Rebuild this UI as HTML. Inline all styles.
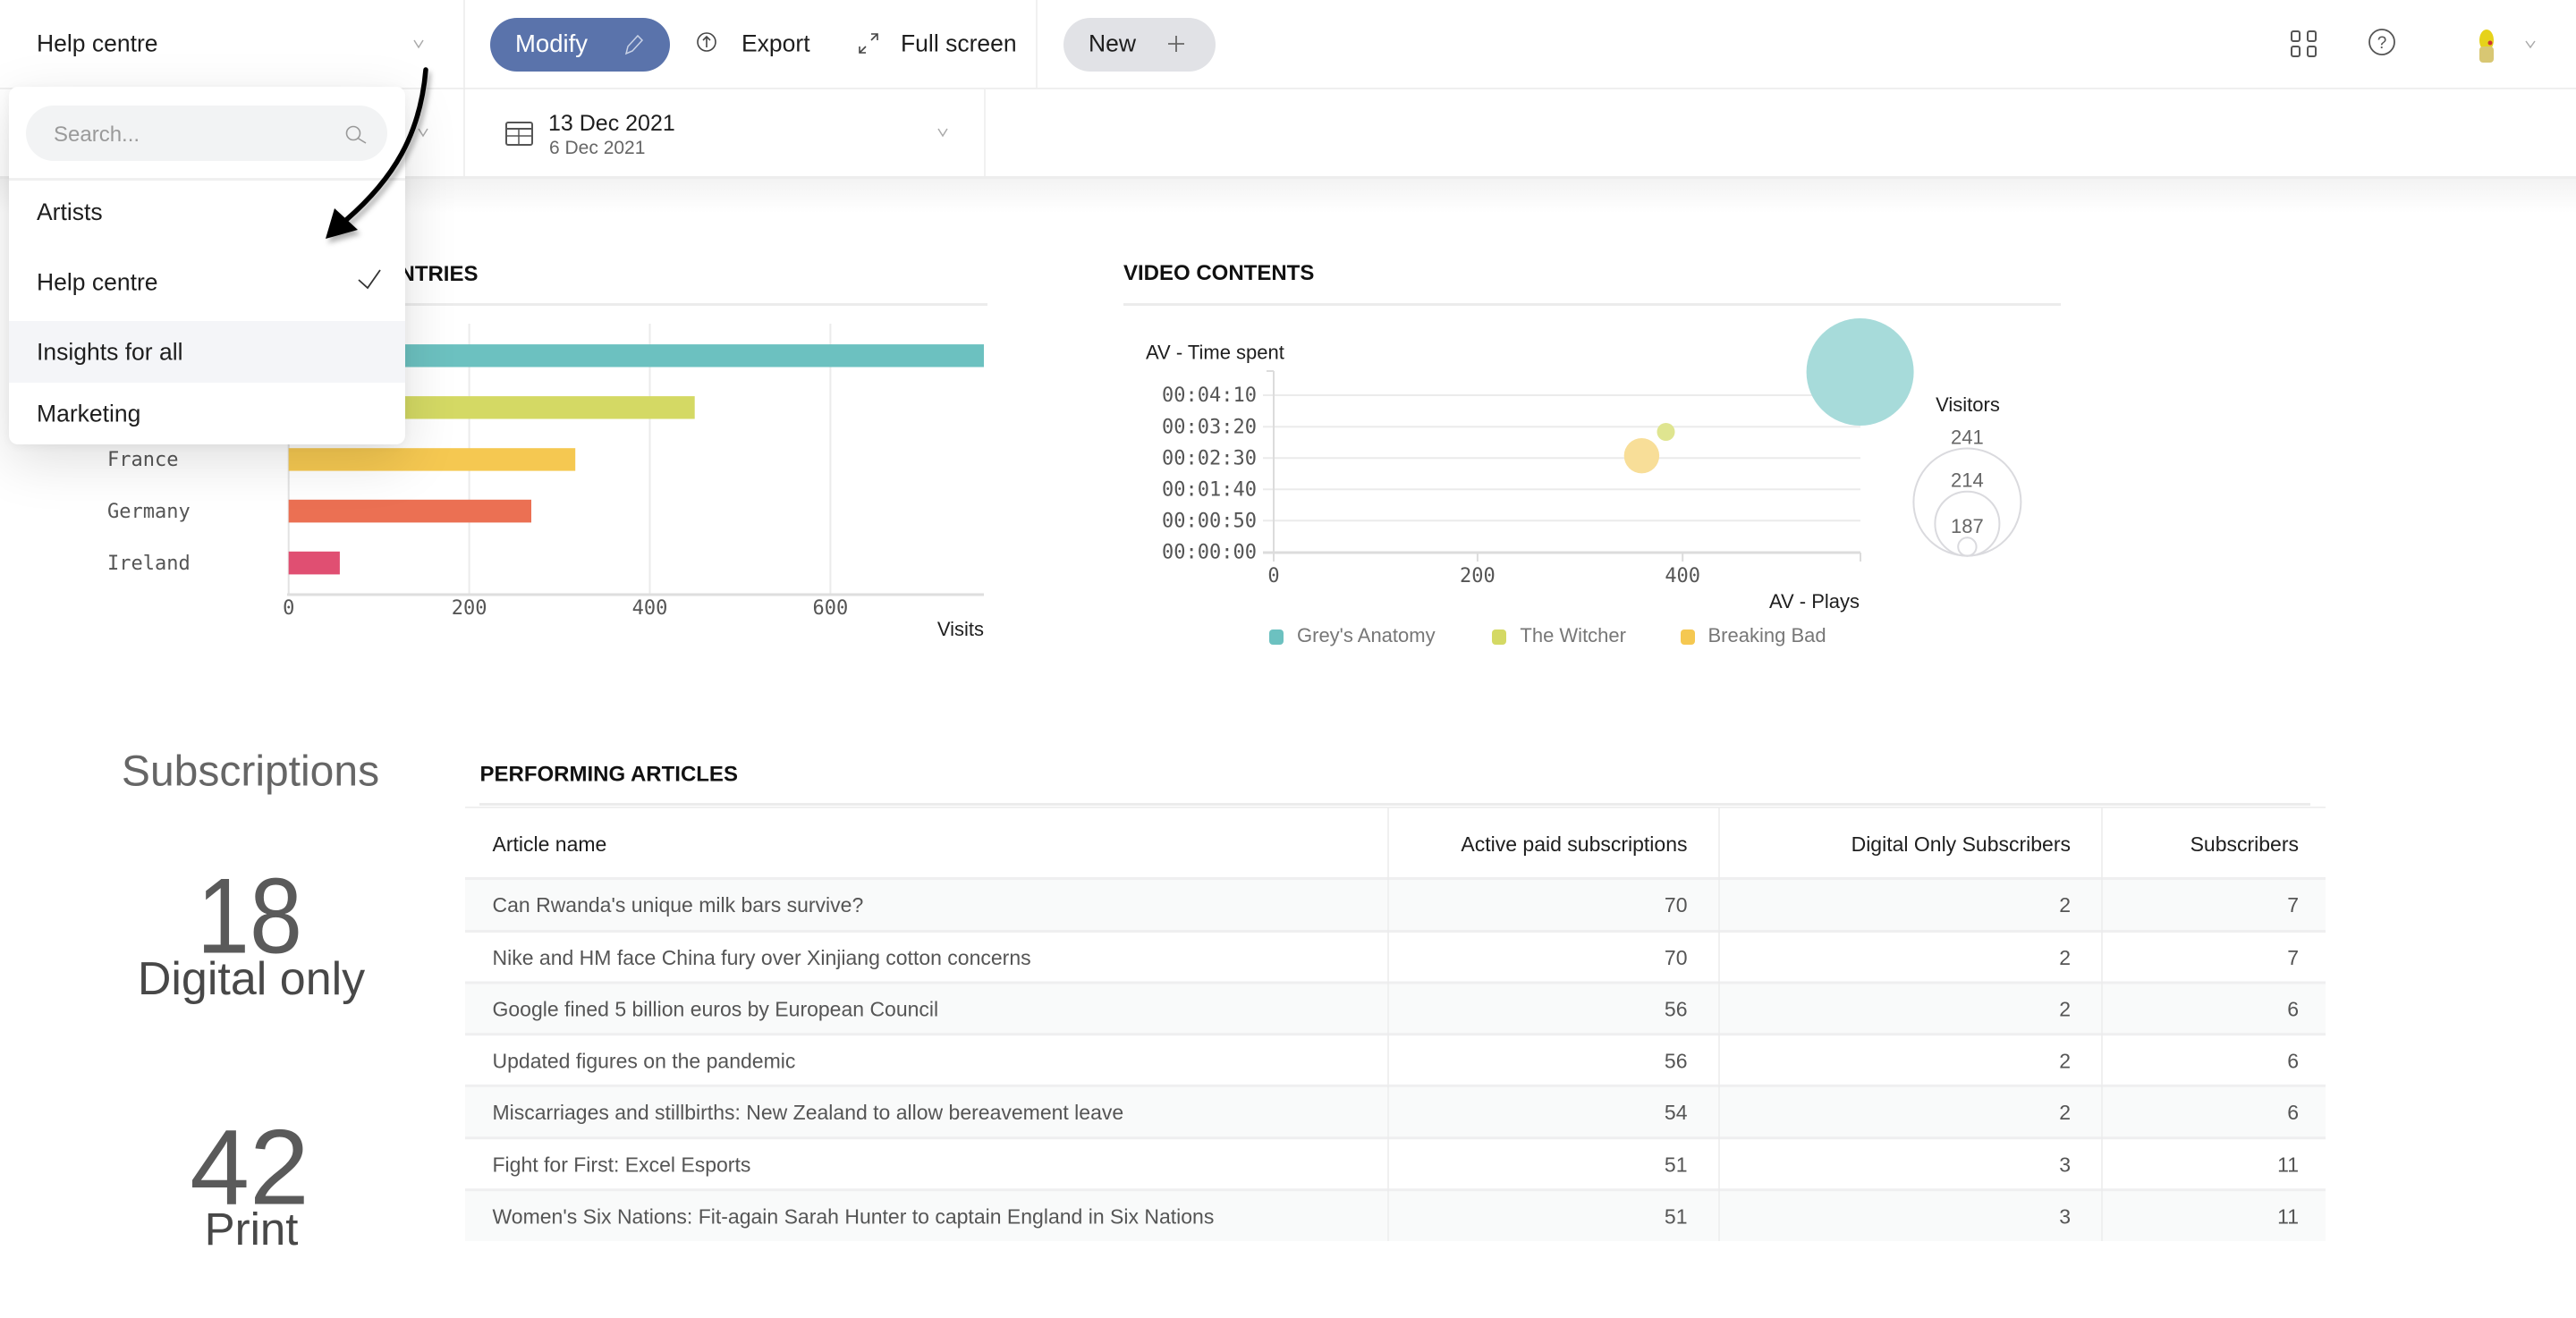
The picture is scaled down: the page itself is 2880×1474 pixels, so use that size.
<!DOCTYPE html>
<html><head><meta charset="utf-8">
<style>
*{margin:0;padding:0;box-sizing:border-box}
html,body{width:2880px;height:1474px;overflow:hidden;background:#fff;font-family:"Liberation Sans",sans-serif}
svg{position:absolute;left:0;top:0}
.dd{position:absolute;left:10px;top:97px;width:443px;height:400px;background:#fff;border-radius:10px;box-shadow:0 18px 60px rgba(0,0,0,0.13),0 2px 10px rgba(0,0,0,0.05);overflow:hidden}
.dd .pill{position:absolute;left:19px;top:21px;width:404px;height:62px;border-radius:31px;background:#f2f3f4}
.dd .hl{position:absolute;left:0;top:262px;width:443px;height:69px;background:#f4f5f8}
.dd .sep{position:absolute;left:0;top:102px;width:443px;height:3px;background:#f0f0f0}
</style></head><body>

<svg width="2880" height="1474" font-family="Liberation Sans, sans-serif">
<defs>
<linearGradient id="hg" x1="0" y1="0" x2="0" y2="1"><stop offset="0" stop-color="#f3f3f3"/><stop offset="1" stop-color="#ffffff"/></linearGradient>
</defs>
<!-- header -->
<rect x="0" y="98" width="2880" height="2" fill="#efefef"/>
<rect x="0" y="197" width="2880" height="3" fill="#ededed"/>
<rect x="0" y="200" width="2880" height="38" fill="url(#hg)"/>
<line x1="519" y1="0" x2="519" y2="198" stroke="#ececec" stroke-width="1.5"/>
<line x1="1159" y1="0" x2="1159" y2="98" stroke="#ececec" stroke-width="1.5"/>
<line x1="1101" y1="100" x2="1101" y2="198" stroke="#ececec" stroke-width="1.5"/>

<text x="41" y="57.5" font-size="26.5" fill="#1e1e1e">Help centre</text>
<polyline points="463,45 468,53 473,45" fill="none" stroke="#aaa" stroke-width="1.5"/>

<rect x="548" y="20" width="201" height="60" rx="30" fill="#5a73ab"/>
<text x="576" y="58" font-size="27.5" fill="#fff">Modify</text>
<path d="M700 60 L702 52 L713 40 L718 45 L707 57 Z" fill="none" stroke="#c9d2e6" stroke-width="1.5"/>

<circle cx="790" cy="47" r="10" fill="none" stroke="#444" stroke-width="1.6"/>
<line x1="790" y1="53" x2="790" y2="41" stroke="#444" stroke-width="1.6"/>
<polyline points="786,45 790,41 794,45" fill="none" stroke="#444" stroke-width="1.6"/>
<text x="829" y="57.5" font-size="26.5" fill="#1e1e1e">Export</text>

<polyline points="961,52 961,59 968,59" fill="none" stroke="#444" stroke-width="1.6"/>
<line x1="961" y1="59" x2="968" y2="52" stroke="#444" stroke-width="1.6"/>
<polyline points="974,38 981,38 981,45" fill="none" stroke="#444" stroke-width="1.6"/>
<line x1="981" y1="38" x2="974" y2="45" stroke="#444" stroke-width="1.6"/>
<text x="1007" y="57.5" font-size="26.5" fill="#1e1e1e">Full screen</text>

<rect x="1189" y="20" width="170" height="60" rx="30" fill="#e1e2e6"/>
<text x="1217" y="57.5" font-size="26.5" fill="#1e1e1e">New</text>
<line x1="1306" y1="49" x2="1324" y2="49" stroke="#666" stroke-width="1.8"/>
<line x1="1315" y1="40" x2="1315" y2="58" stroke="#666" stroke-width="1.8"/>

<!-- right icons -->
<rect x="2562" y="35" width="9" height="11" rx="2" fill="none" stroke="#555" stroke-width="2"/>
<rect x="2580" y="35" width="9" height="11" rx="2" fill="none" stroke="#555" stroke-width="2"/>
<rect x="2562" y="52" width="9" height="11" rx="2" fill="none" stroke="#555" stroke-width="2"/>
<rect x="2580" y="52" width="9" height="11" rx="2" fill="none" stroke="#555" stroke-width="2"/>
<circle cx="2663" cy="47" r="14" fill="none" stroke="#555" stroke-width="1.8"/>
<text x="2663" y="54" font-size="19" fill="#555" text-anchor="middle">?</text>
<ellipse cx="2780" cy="45" rx="8" ry="12" fill="#e6d21a"/>
<rect x="2772" y="52" width="16" height="18" rx="4" fill="#d8c773"/>
<circle cx="2784" cy="48" r="2.5" fill="#c33"/>
<polyline points="2824,46 2829,53 2834,46" fill="none" stroke="#aaa" stroke-width="1.5"/>

<!-- row 2 -->
<polyline points="468,144 473,152 478,144" fill="none" stroke="#aaa" stroke-width="1.5"/>
<rect x="566" y="137" width="29" height="25" rx="2" fill="none" stroke="#555" stroke-width="2"/>
<line x1="566" y1="144" x2="595" y2="144" stroke="#555" stroke-width="2"/>
<line x1="566" y1="152" x2="595" y2="152" stroke="#555" stroke-width="1.5"/>
<line x1="580" y1="144" x2="580" y2="162" stroke="#555" stroke-width="1.5"/>
<text x="613" y="146" font-size="25" fill="#1e1e1e">13 Dec 2021</text>
<text x="614" y="172" font-size="21" fill="#666">6 Dec 2021</text>
<polyline points="1049,144 1054,152 1059,144" fill="none" stroke="#aaa" stroke-width="1.5"/>

<!-- countries chart -->
<text x="534.5" y="314" font-size="24" font-weight="bold" fill="#111" text-anchor="end">TOP COUNTRIES</text>
<rect x="100" y="339" width="1004" height="3" fill="#ececec"/>
<g stroke="#ebebeb" stroke-width="2">
<line x1="524.6" y1="362" x2="524.6" y2="665"/>
<line x1="726.5" y1="362" x2="726.5" y2="665"/>
<line x1="928.4" y1="362" x2="928.4" y2="665"/>
</g>
<line x1="322.7" y1="362" x2="322.7" y2="665" stroke="#e2e2e2" stroke-width="2"/>
<rect x="322.7" y="385.1" width="777.3" height="25.4" fill="#6cc1c0"/>
<rect x="322.7" y="443.1" width="454" height="25.4" fill="#d4d964"/>
<rect x="322.7" y="501.2" width="320.5" height="25.4" fill="#f5c851"/>
<rect x="322.7" y="558.8" width="271.3" height="25.6" fill="#eb7053"/>
<rect x="322.7" y="616.8" width="57.2" height="25.6" fill="#e04f72"/>
<line x1="321" y1="665" x2="1100" y2="665" stroke="#dedede" stroke-width="3"/>
<g font-family="DejaVu Sans Mono, Liberation Mono, monospace" font-size="22" fill="#555">
<text x="120" y="521">France</text>
<text x="120" y="579">Germany</text>
<text x="120" y="637">Ireland</text>
<g text-anchor="middle">
<text x="322.7" y="687">0</text>
<text x="524.6" y="687">200</text>
<text x="726.5" y="687">400</text>
<text x="928.4" y="687">600</text>
</g>
</g>
<text x="1100" y="711" font-size="22" fill="#1e1e1e" text-anchor="end">Visits</text>

<!-- video contents -->
<text x="1256" y="313" font-size="24" font-weight="bold" fill="#111">VIDEO CONTENTS</text>
<rect x="1256" y="339" width="1048" height="3" fill="#ececec"/>
<text x="1281" y="401.5" font-size="22" fill="#1e1e1e">AV - Time spent</text>
<g stroke="#ebebeb" stroke-width="2">
<line x1="1412" y1="442" x2="2080" y2="442"/>
<line x1="1412" y1="477.3" x2="2080" y2="477.3"/>
<line x1="1412" y1="512.3" x2="2080" y2="512.3"/>
<line x1="1412" y1="547.3" x2="2080" y2="547.3"/>
<line x1="1412" y1="582.3" x2="2080" y2="582.3"/>
</g>
<g stroke="#dcdcdc" stroke-width="2">
<line x1="1424" y1="415" x2="1424" y2="628"/>
<line x1="1416" y1="415" x2="1424" y2="415"/>
<line x1="1651.9" y1="618" x2="1651.9" y2="628"/>
<line x1="1881.2" y1="618" x2="1881.2" y2="628"/>
<line x1="2080" y1="618" x2="2080" y2="628"/>
</g>
<line x1="1412" y1="618" x2="2080" y2="618" stroke="#dcdcdc" stroke-width="3"/>
<g font-family="DejaVu Sans Mono, Liberation Mono, monospace" font-size="22" fill="#555">
<g text-anchor="end">
<text x="1405" y="449">00:04:10</text>
<text x="1405" y="484.3">00:03:20</text>
<text x="1405" y="519.3">00:02:30</text>
<text x="1405" y="554.3">00:01:40</text>
<text x="1405" y="589.3">00:00:50</text>
<text x="1405" y="624.7">00:00:00</text>
</g>
<g text-anchor="middle">
<text x="1424" y="651">0</text>
<text x="1651.9" y="651">200</text>
<text x="1881.2" y="651">400</text>
</g>
</g>
<text x="2079" y="680" font-size="22" fill="#1e1e1e" text-anchor="end">AV - Plays</text>
<circle cx="2079.6" cy="416" r="60" fill="#a7dbda"/>
<circle cx="1862.5" cy="483" r="10" fill="#dfe590"/>
<circle cx="1835.4" cy="509.7" r="19.7" fill="#f8de98"/>
<rect x="1419" y="704" width="16" height="17" rx="4" fill="#6cc1c0"/>
<rect x="1668" y="704" width="16" height="17" rx="4" fill="#d4d964"/>
<rect x="1879" y="704" width="16" height="17" rx="4" fill="#f5c851"/>
<g font-size="22" fill="#777">
<text x="1450" y="718">Grey's Anatomy</text>
<text x="1699.4" y="718">The Witcher</text>
<text x="1909.5" y="718">Breaking Bad</text>
</g>
<text x="2200" y="460" font-size="22" fill="#1e1e1e" text-anchor="middle">Visitors</text>
<g fill="none" stroke="#dadade" stroke-width="2">
<circle cx="2199.4" cy="561.5" r="60"/>
<circle cx="2199.4" cy="585.7" r="36"/>
<circle cx="2199.4" cy="611.5" r="10.2"/>
</g>
<g font-size="22" fill="#666" text-anchor="middle">
<text x="2199.4" y="496.7">241</text>
<text x="2199.4" y="544.3">214</text>
<text x="2199.4" y="596">187</text>
</g>

<!-- subscriptions -->
<g fill="#484848" text-anchor="middle">
<text x="280" y="878.3" font-size="48" fill="#666">Subscriptions</text>
<text x="279" y="1065.5" font-size="120" fill="#5a5a5a" textLength="118" lengthAdjust="spacingAndGlyphs">18</text>
<text x="281" y="1112" font-size="52">Digital only</text>
<text x="279" y="1346.5" font-size="120" fill="#5a5a5a">42</text>
<text x="281" y="1392" font-size="51">Print</text>
</g>

<!-- table -->
<text x="536.5" y="873.5" font-size="24" font-weight="bold" fill="#111">PERFORMING ARTICLES</text>
<rect x="536" y="898" width="2047" height="3" fill="#ececec"/>
<rect x="520" y="902" width="2080" height="2" fill="#f0f0f0"/>
<g fill="#f9fafa">
<rect x="520" y="983" width="2080" height="58"/>
<rect x="520" y="1100" width="2080" height="57"/>
<rect x="520" y="1215" width="2080" height="58"/>
<rect x="520" y="1331" width="2080" height="57"/>
</g>
<g fill="#efeff0">
<rect x="520" y="981" width="2080" height="3"/>
<rect x="520" y="1040" width="2080" height="3"/>
<rect x="520" y="1097.5" width="2080" height="3"/>
<rect x="520" y="1155.2" width="2080" height="3"/>
<rect x="520" y="1212.8" width="2080" height="3"/>
<rect x="520" y="1271.2" width="2080" height="3"/>
<rect x="520" y="1329.2" width="2080" height="3"/>
</g>
<g stroke="#ececec" stroke-width="1.5">
<line x1="1552" y1="903" x2="1552" y2="1388"/>
<line x1="1922" y1="903" x2="1922" y2="1388"/>
<line x1="2350" y1="903" x2="2350" y2="1388"/>
</g>
<g font-size="23" fill="#1e1e1e">
<text x="550.5" y="952">Article name</text>
<g text-anchor="end">
<text x="1886.5" y="952">Active paid subscriptions</text>
<text x="2315" y="952">Digital Only Subscribers</text>
<text x="2570" y="952">Subscribers</text>
</g>
</g>
<g font-size="23" fill="#555">
<text x="550.5" y="1020">Can Rwanda's unique milk bars survive?</text>
<text x="550.5" y="1079">Nike and HM face China fury over Xinjiang cotton concerns</text>
<text x="550.5" y="1136.7">Google fined 5 billion euros by European Council</text>
<text x="550.5" y="1194.4">Updated figures on the pandemic</text>
<text x="550.5" y="1252">Miscarriages and stillbirths: New Zealand to allow bereavement leave</text>
<text x="550.5" y="1310.4">Fight for First: Excel Esports</text>
<text x="550.5" y="1368.4">Women's Six Nations: Fit-again Sarah Hunter to captain England in Six Nations</text>
<g text-anchor="end">
<text x="1886.5" y="1020">70</text><text x="2315" y="1020">2</text><text x="2570" y="1020">7</text>
<text x="1886.5" y="1079">70</text><text x="2315" y="1079">2</text><text x="2570" y="1079">7</text>
<text x="1886.5" y="1136.7">56</text><text x="2315" y="1136.7">2</text><text x="2570" y="1136.7">6</text>
<text x="1886.5" y="1194.4">56</text><text x="2315" y="1194.4">2</text><text x="2570" y="1194.4">6</text>
<text x="1886.5" y="1252">54</text><text x="2315" y="1252">2</text><text x="2570" y="1252">6</text>
<text x="1886.5" y="1310.4">51</text><text x="2315" y="1310.4">3</text><text x="2570" y="1310.4">11</text>
<text x="1886.5" y="1368.4">51</text><text x="2315" y="1368.4">3</text><text x="2570" y="1368.4">11</text>
</g>
</g>
</svg>

<!-- dropdown -->
<div class="dd">
<div class="pill"></div>
<div class="sep"></div>
<div class="hl"></div>
<svg width="443" height="400" font-family="Liberation Sans, sans-serif">
<text x="50" y="61" font-size="24" fill="#9a9a9a">Search...</text>
<circle cx="385" cy="52" r="7.5" fill="none" stroke="#999" stroke-width="1.6"/>
<line x1="390" y1="57.5" x2="399" y2="63" stroke="#999" stroke-width="1.6"/>
<g font-size="26.5" fill="#1e1e1e">
<text x="31" y="149">Artists</text>
<text x="31" y="227.6">Help centre</text>
<text x="31" y="305.5">Insights for all</text>
<text x="31" y="374.7">Marketing</text>
</g>
<polyline points="391,216 401,225 415,205" fill="none" stroke="#333" stroke-width="1.8"/>
</svg>
</div>

<!-- arrow -->
<svg width="2880" height="1474" style="filter:drop-shadow(3px 5px 3px rgba(0,0,0,0.3))">
<path d="M476 78 C470 150, 440 200, 387 246" fill="none" stroke="#000" stroke-width="5.5" stroke-linecap="round"/>
<polygon points="374,233 400,257 364,267" fill="#000"/>
</svg>
</body></html>
